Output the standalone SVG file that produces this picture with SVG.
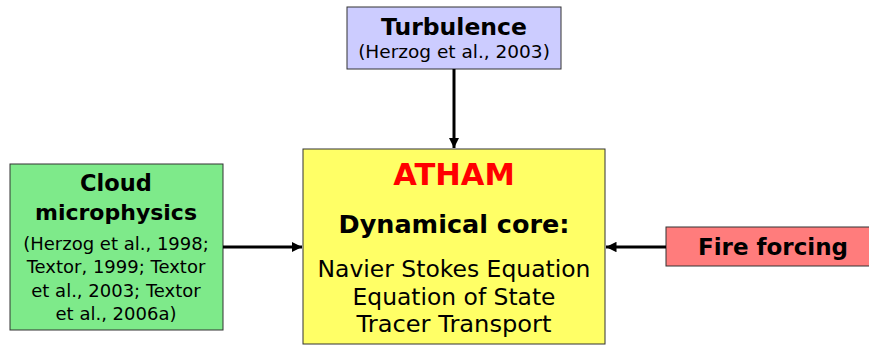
<svg xmlns="http://www.w3.org/2000/svg" width="869" height="345" viewBox="0 0 869 345">
<defs>
<marker id="ah" viewBox="0 0 10 10" refX="10" refY="5" markerWidth="3.5" markerHeight="3.5" orient="auto" markerUnits="strokeWidth">
<path d="M0,0 L10,5 L0,10 z" fill="#000"/>
</marker>
</defs>
<style>
.box{stroke:#333;stroke-width:1}
.t{font-family:"DejaVu Sans",Verdana,sans-serif;text-anchor:middle;fill:#000}
.b{font-weight:bold}
.conn{stroke:#000;stroke-width:3;fill:none;marker-end:url(#ah)}
</style>
<rect width="869" height="345" fill="#fff"/>
<g id="turbulence">
<rect class="box" x="347" y="7" width="214" height="62" fill="#CCCCFF"/>
<text class="t b" x="454" y="35" font-size="23.5">Turbulence</text>
<text class="t" x="454" y="58" font-size="18.5">(Herzog et al., 2003)</text>
</g>
<g id="cloud">
<rect class="box" x="10" y="164" width="213" height="166" fill="#7EEA8A"/>
<text class="t b" x="116" y="191" font-size="22.5">Cloud</text>
<text class="t b" x="116" y="220" font-size="22">microphysics</text>
<text class="t" x="116" y="250" font-size="18">(Herzog et al., 1998;</text>
<text class="t" x="116" y="273" font-size="18">Textor, 1999; Textor</text>
<text class="t" x="116" y="297" font-size="18">et al., 2003; Textor</text>
<text class="t" x="116" y="320" font-size="18">et al., 2006a)</text>
</g>
<g id="atham">
<rect class="box" x="303" y="149" width="302" height="195" fill="#FFFF66"/>
<text class="t b" x="454" y="185" font-size="30.5" style="fill:#FF0000">ATHAM</text>
<text class="t b" x="454" y="233" font-size="24" textLength="231" lengthAdjust="spacingAndGlyphs">Dynamical core:</text>
<text class="t" x="454" y="277" font-size="22.5" textLength="273" lengthAdjust="spacingAndGlyphs">Navier Stokes Equation</text>
<text class="t" x="454" y="305" font-size="22.5" textLength="203" lengthAdjust="spacingAndGlyphs">Equation of State</text>
<text class="t" x="454" y="332" font-size="22.5" textLength="195" lengthAdjust="spacingAndGlyphs">Tracer Transport</text>
</g>
<g id="fire">
<rect class="box" x="666" y="227" width="210" height="39" fill="#FF7C7C"/>
<text class="t b" x="773" y="255" font-size="23">Fire forcing</text>
</g>
<g id="connectors">
<line class="conn" x1="454" y1="69" x2="454" y2="148"/>
<line class="conn" x1="223" y1="247" x2="302" y2="247"/>
<line class="conn" x1="666" y1="247" x2="606" y2="247"/>
</g>
</svg>
